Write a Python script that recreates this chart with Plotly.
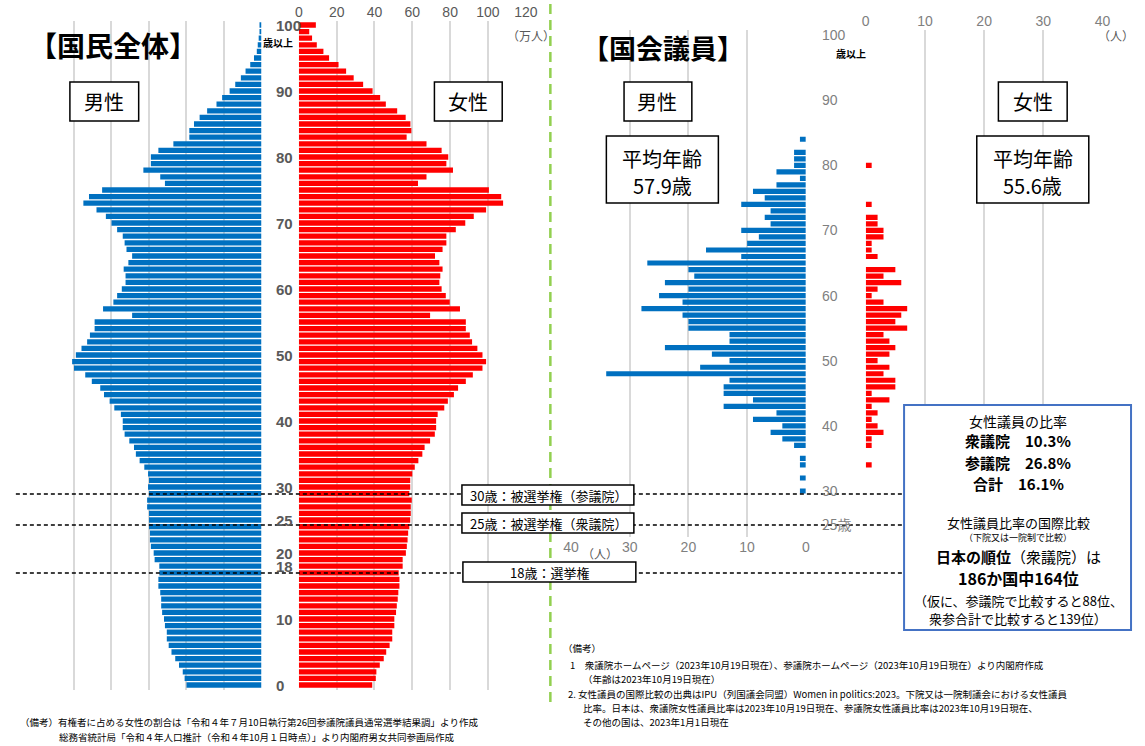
import plotly.graph_objects as go

W, H = 1145, 746


def px(x):
    return x / W


def py(y):
    return 1 - y / H


# ---------------- data ----------------
pop_ages = list(range(0, 101))
pop_male = [40, 41, 42, 44, 46, 48, 49.5, 50.5, 50.5, 51.5,
            52, 53, 53.5, 53.5, 54, 55, 55, 54.5, 54.5, 57,
            57.5, 59, 59.5, 59.5, 60, 60, 60, 61, 61, 60,
            60.5, 60, 60.5, 62.5, 65, 67, 68, 70.5, 73, 74,
            74, 75, 78.5, 81, 84, 86, 90.5, 94, 100, 101,
            99, 96, 93, 91.5, 89, 89, 69, 84.5, 79, 77,
            74.5, 72.5, 72.5, 73.5, 71, 69, 72, 73, 74, 77,
            80, 83, 88, 95, 92, 85, 51.5, 54, 63, 59,
            59, 55, 47, 38.5, 38.5, 36, 33, 29, 24, 21,
            17, 14, 11, 8.5, 6, 4, 2.5, 2, 1.5, 1,
            1]
pop_female = [38.8, 40.7, 41, 42.8, 44.9, 46.2, 48, 49.4, 49.4, 50.5,
              50.5, 51.4, 51.8, 52.3, 52.6, 53.2, 53.2, 52.8, 54.9, 54.9,
              56.6, 57.1, 57.5, 57.8, 58.4, 58.9, 59.2, 59.2, 59.7, 58.4,
              58.9, 58.9, 60, 61.3, 63.2, 65.3, 66.5, 69.4, 71.9, 72.6,
              72.6, 73.4, 76.9, 78.8, 82, 84.2, 88.3, 92, 97.1, 99,
              97.1, 94.4, 91.6, 90.4, 88.3, 88.3, 69.4, 85.2, 79.8, 77.7,
              75.5, 74.3, 74.8, 76, 74.3, 72, 76, 78, 78, 83,
              88, 92.5, 99, 108, 107, 100.5, 63, 67.5, 81.5, 78,
              79, 75.5, 67.5, 57, 59.5, 59, 56.5, 52, 46, 43,
              39, 34, 29, 25, 21, 16, 13, 9.5, 7, 5.5,
              9]

diet_ages = list(range(30, 85))
diet_male = [1, 0, 1, 0, 1, 1, 0, 2, 4, 6,
             4, 9, 5, 14, 9, 14, 14, 13, 34, 18,
             13, 16, 24, 13, 13, 20, 20, 21, 28, 21,
             25, 20, 24, 19, 20, 27, 11, 17, 10, 8,
             11, 6, 7, 6, 11, 7, 9, 5, 1, 5,
             2, 2, 2, 0, 1]
diet_female = [0, 0, 0, 0, 1, 0, 0, 1, 1, 3,
               2, 1, 2, 1, 4, 1, 5, 5, 3, 4,
               2, 4, 5, 4, 3, 7, 5, 6, 7, 3,
               1, 2, 6, 3, 5, 0, 2, 1, 1, 3,
               3, 2, 2, 0, 1, 0, 0, 0, 0, 0,
               1, 0, 0, 0, 0]

pop_age_ticks = [0, 10, 18, 20, 25, 30, 40, 50, 60, 70, 80, 90, 100]
diet_age_ticks = [30, 40, 50, 60, 70, 80, 90, 100]
pop_x_ticks = [0, 20, 40, 60, 80, 100, 120]
diet_x_ticks = [0, 10, 20, 30, 40]

BLUE = "#0070C0"
RED = "#FF0000"
GRID = "#D9D9D9"
JP = "Noto Sans CJK JP"

fig = go.Figure()
fig.add_trace(go.Bar(y=pop_ages, x=pop_male, orientation="h", xaxis="x", yaxis="y",
                     marker=dict(color=BLUE, line=dict(width=0)), hoverinfo="skip"))
fig.add_trace(go.Bar(y=pop_ages, x=pop_female, orientation="h", xaxis="x2", yaxis="y",
                     marker=dict(color=RED, line=dict(width=0)), hoverinfo="skip"))
fig.add_trace(go.Bar(y=diet_ages, x=diet_male, orientation="h", xaxis="x3", yaxis="y2",
                     marker=dict(color=BLUE, line=dict(width=0)), hoverinfo="skip"))
fig.add_trace(go.Bar(y=diet_ages, x=diet_female, orientation="h", xaxis="x4", yaxis="y2",
                     marker=dict(color=RED, line=dict(width=0)), hoverinfo="skip"))

axis_common = dict(showgrid=True, gridcolor=GRID, gridwidth=1.5, zeroline=False,
                   showline=False, ticks="", fixedrange=True)

fig.update_layout(
    width=W, height=H,
    margin=dict(l=0, r=0, t=0, b=0),
    paper_bgcolor="white", plot_bgcolor="rgba(0,0,0,0)",
    showlegend=False, barmode="overlay", bargap=0.2,
    font=dict(family=JP, color="black"),
    xaxis=dict(domain=[px(29), px(258)], range=[120, 0], anchor="y",
               tickvals=pop_x_ticks[1:], showticklabels=False, **axis_common),
    xaxis2=dict(domain=[px(296), px(527)], range=[0, 120], anchor="y", side="top",
                tickvals=pop_x_ticks, showticklabels=True,
                tickfont=dict(size=14, color="#595959", family="Liberation Sans"),
                **axis_common),
    yaxis=dict(domain=[py(690), py(21)], range=[-0.758, 100.606], anchor="x2",
               showgrid=False, zeroline=False, showticklabels=False, fixedrange=True),
    xaxis3=dict(domain=[px(573), px(812)], range=[40, 0], anchor="y2", side="bottom",
                tickvals=diet_x_ticks, showticklabels=True,
                tickfont=dict(size=14, color="#7F7F7F", family="Liberation Sans"),
                **axis_common),
    xaxis4=dict(domain=[px(873), px(1114)], range=[0, 40], anchor="y2", side="top",
                tickvals=diet_x_ticks, showticklabels=True,
                tickfont=dict(size=14, color="#7F7F7F", family="Liberation Sans"),
                **axis_common),
    yaxis2=dict(domain=[py(537), py(30)], range=[22.94, 100.77], anchor="x3",
                showgrid=False, zeroline=False, showticklabels=False, fixedrange=True),
)

shapes = []
ann = []

# green dashed separator
shapes.append(dict(type="line", xref="paper", yref="paper", x0=px(552), x1=px(552),
                   y0=py(4), y1=py(702), line=dict(color="#92D050", width=2.5, dash="10px,6px"),
                   layer="above"))
# black dashed reference lines (30, 25, 18)
for yy in (494, 525, 573):
    shapes.append(dict(type="line", xref="paper", yref="paper", x0=px(8), x1=px(912),
                       y0=py(yy), y1=py(yy), line=dict(color="black", width=1.5, dash="4px,3px"),
                       layer="above"))


def box(x0, y0, x1, y1, color="black", width=1.5):
    shapes.append(dict(type="rect", xref="paper", yref="paper", x0=px(x0), x1=px(x1),
                       y0=py(y1), y1=py(y0), line=dict(color=color, width=width),
                       fillcolor="white", layer="above"))


def text(x, y, s, size=14, color="black", xanchor="center", family=JP, bold=False):
    if bold:
        s = "<b>" + s + "</b>"
    ann.append(dict(x=px(x), y=py(y), xref="paper", yref="paper", text=s, showarrow=False,
                    xanchor=xanchor, yanchor="middle",
                    font=dict(size=size, color=color, family=family)))


# labelled boxes
box(63, 82, 133, 121)
text(98, 102, "男性", 20)
box(434, 82, 503, 121)
text(468, 102, "女性", 20)
box(627, 82, 696, 121)
text(661, 102, "男性", 20)
box(609, 136, 723, 203)
text(666, 158, "平均年齢", 20)
text(666, 186, "57.9歳", 20)
box(1008, 82, 1078, 121)
text(1043, 102, "女性", 20)
box(986, 136, 1100, 203)
text(1043, 158, "平均年齢", 20)
text(1043, 186, "55.6歳", 20)

box(462, 485, 637, 505)
text(550, 495, "30歳：被選挙権（参議院）", 13)
box(462, 513, 637, 533)
text(550, 523, "25歳：被選挙権（衆議院）", 13)
box(463, 562, 639, 582)
text(551, 572, "18歳：選挙権", 13)

# blue info box
box(912, 405, 1143, 630, color="#4472C4", width=2)
cx = 1028
text(cx, 421, "女性議員の比率", 14)
text(cx, 441, "衆議院　10.3%", 15, bold=True)
text(cx, 462, "参議院　26.8%", 15, bold=True)
text(cx, 483, "合計　16.1%", 15, bold=True)
text(cx, 522, "女性議員比率の国際比較", 13)
text(cx, 537, "（下院又は一院制で比較）", 9)
text(cx, 556, "<b>日本の順位</b>（衆議院）は", 15)
text(cx, 578, "186か国中164位", 16, bold=True)
text(cx, 600, "（仮に、参議院で比較すると88位、", 13)
text(cx, 618, "衆参合計で比較すると139位）", 13)

# titles
text(107, 45, "【国民全体】", 28, bold=True)
text(667, 47, "【国会議員】", 27, bold=True)

# units
text(532, 35, "（万人）", 12, color="#595959")
text(1128, 35, "（人）", 12, color="#595959")
text(603, 553, "（人）", 12, color="#595959")

# age labels (left chart)
for a in pop_age_ticks:
    ann.append(dict(x=px(271), y=a, xref="paper", yref="y", text="<b>%d</b>" % a,
                    showarrow=False, xanchor="left", yanchor="middle",
                    font=dict(size=15, color="#595959", family="Liberation Sans Narrow, Liberation Sans")))
text(275, 42, "歳以上", 10, bold=True)

# age labels (right chart)
for a in diet_age_ticks:
    ann.append(dict(x=px(826), y=a, xref="paper", yref="y2", text="%d" % a,
                    showarrow=False, xanchor="left", yanchor="middle",
                    font=dict(size=14, color="#7F7F7F", family="Liberation Sans")))
ann.append(dict(x=px(826), y=25, xref="paper", yref="y2", text="25歳",
                showarrow=False, xanchor="left", yanchor="middle",
                font=dict(size=14, color="#7F7F7F", family=JP)))
text(858, 53, "歳以上", 10, bold=True)

# footnotes
fn = 9.5
text(10, 722, "（備考）有権者に占める女性の割合は「令和４年７月10日執行第26回参議院議員通常選挙結果調」より作成",
     fn, xanchor="left")
text(50, 737, "総務省統計局「令和４年人口推計（令和４年10月１日時点）」より内閣府男女共同参画局作成",
     fn, xanchor="left")
text(563, 648, "（備考）", fn, xanchor="left")
text(570, 665, "1　衆議院ホームページ（2023年10月19日現在）、参議院ホームページ（2023年10月19日現在）より内閣府作成",
     fn, xanchor="left")
text(583, 679, "（年齢は2023年10月19日現在）", fn, xanchor="left")
text(568, 694, "2. 女性議員の国際比較の出典はIPU（列国議会同盟）Women in politics:2023。下院又は一院制議会における女性議員",
     fn, xanchor="left")
text(583, 708, "比率。日本は、衆議院女性議員比率は2023年10月19日現在、参議院女性議員比率は2023年10月19日現在、",
     fn, xanchor="left")
text(583, 722, "その他の国は、2023年1月1日現在", fn, xanchor="left")

fig.update_layout(shapes=shapes, annotations=ann)
fig.write_html("out.html", config={"displayModeBar": False},
               post_script="document.body.style.margin='0';document.body.style.overflow='hidden';")
